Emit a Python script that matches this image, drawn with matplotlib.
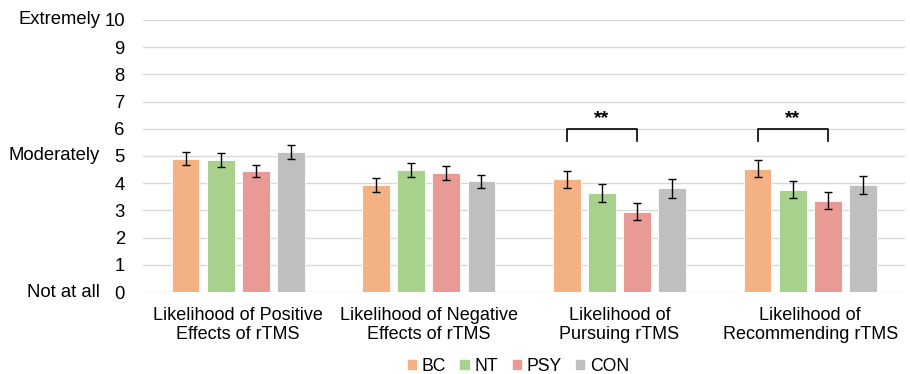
import numpy as np
import matplotlib.pyplot as plt
from matplotlib.patches import Patch

plt.rcParams['font.family'] = ['Liberation Sans', 'DejaVu Sans']

categories = ['Likelihood of Positive\nEffects of rTMS', 'Likelihood of Negative\nEffects of rTMS',
              'Likelihood of\nPursuing rTMS', 'Likelihood of\nRecommending rTMS']
groups = ['BC', 'NT', 'PSY', 'CON']
colors = ['#F4B183', '#A9D18E', '#EA9A94', '#BFBFBF']

bc = [4.90, 3.94, 4.15, 4.53]
nt = [4.86, 4.48, 3.64, 3.76]
psy = [4.45, 4.37, 2.96, 3.36]
con = [5.15, 4.07, 3.81, 3.93]
bc_err = [0.23, 0.25, 0.31, 0.31]
nt_err = [0.26, 0.25, 0.33, 0.31]
psy_err = [0.22, 0.25, 0.30, 0.32]
con_err = [0.25, 0.24, 0.35, 0.33]

# significance brackets: (category index, from group, to group)
sig = [(2, 0, 2, '**'), (3, 0, 2, '**')]
bracket_top = 6.0
bracket_low = 5.55

vals = [bc, nt, psy, con]
errs = [bc_err, nt_err, psy_err, con_err]

fig = plt.figure(figsize=(9.1, 3.74), dpi=100)
ax = fig.add_axes([0.157, 0.219, 0.838, 0.728])

x = np.arange(len(categories))
w = 0.146
step = 0.184
offs = (np.arange(4) - 1.5) * step

for k in range(4):
    ax.bar(x + offs[k], vals[k], w, color=colors[k], zorder=2,
           edgecolor='white', linewidth=0.6)
    ax.errorbar(x + offs[k], vals[k], yerr=errs[k], fmt='none', ecolor='black',
                elinewidth=1, capsize=3, capthick=1, zorder=3)

for ci, g1, g2, txt in sig:
    x1 = ci + offs[g1]
    x2 = ci + offs[g2]
    ax.plot([x1, x1, x2, x2], [bracket_low, bracket_top, bracket_top, bracket_low],
            color='black', lw=1.2, zorder=3)
    ax.text((x1 + x2) / 2, bracket_top + 0.36, txt, ha='center', va='center',
            fontsize=14, fontweight='bold')

ax.set_ylim(0, 10)
ax.set_xlim(-0.5, 3.5)
ax.set_yticks(range(11))
ax.tick_params(axis='y', length=0, pad=13, labelsize=13.3)
ax.tick_params(axis='x', length=0, pad=11, labelsize=13)
ax.set_xticks(x)
ax.set_xticklabels(categories, linespacing=1.1)
ax.grid(axis='y', color='#D9D9D9', lw=1, zorder=0)
for s in ax.spines.values():
    s.set_visible(False)

tr = ax.get_yaxis_transform()
for yv, lab in [(10, 'Extremely'), (5, 'Moderately'), (0, 'Not at all')]:
    ax.text(-0.056, yv, lab, transform=tr, ha='right', va='center', fontsize=13.3)

handles = [Patch(color=c, label=g) for c, g in zip(colors, groups)]
fig.legend(handles=handles, loc='center', bbox_to_anchor=(0.570, 0.021), ncol=4,
           frameon=False, fontsize=12.7, handlelength=0.46, handleheight=0.46,
           handletextpad=0.35, columnspacing=0.8, borderpad=0)

fig.savefig('out.png', dpi=100)
